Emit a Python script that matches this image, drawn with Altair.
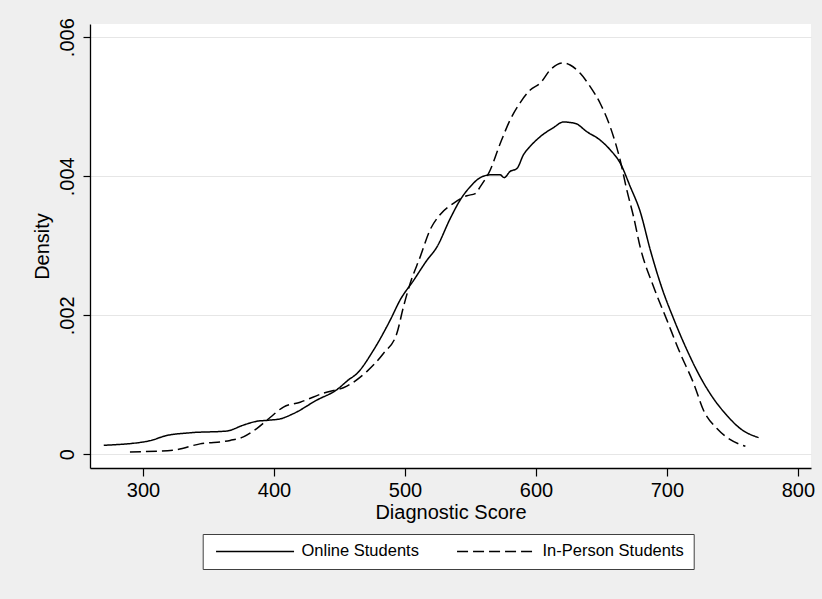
import altair as alt
import pandas as pd

series_names = ["Online Students", "In-Person Students"]

online_score = [270, 304, 318, 336, 364, 376.6, 386.8, 395.7, 404.7, 414.8, 432.7, 448,
                456.8, 463.2, 476, 488.7, 496.3, 506.5, 516.7, 524.3, 534.5, 542.2, 549.8,
                557.5, 565.1, 572.7, 575.7, 580.3, 585.4, 590.5, 595.6, 603.3, 613.4, 621,
                630, 638.9, 649, 656.7, 664.3, 672, 679.6, 687.3, 696.2, 705.1, 715.3,
                725.5, 735.6, 745.8, 756, 770]
online_density = [0.00013, 0.00019, 0.00027, 0.00031, 0.000335, 0.00042, 0.000475, 0.00049,
                  0.00051, 0.000585, 0.00078, 0.00093, 0.00107, 0.00116, 0.0015, 0.00193,
                  0.00222, 0.0025, 0.00279, 0.00298, 0.00339, 0.00366, 0.00385, 0.00398,
                  0.00402, 0.00402, 0.00398, 0.00407, 0.00411, 0.00431, 0.00443, 0.00457,
                  0.0047, 0.00478, 0.00476, 0.00464, 0.00452, 0.00438, 0.00419, 0.00385,
                  0.00349, 0.00294, 0.00239, 0.00195, 0.0015, 0.00111, 0.0008, 0.00056,
                  0.00037, 0.00024]

inperson_score = [290, 323, 343.5, 366.5, 376.6, 386.8, 397, 407.2, 420, 437.7, 455.6, 470.8,
                  483.5, 493.8, 498.8, 504, 511.6, 519.2, 526.9, 537, 547.3, 553.6, 557.5,
                  565.1, 572.7, 580.3, 588, 595.6, 603.3, 610.9, 621, 626.1, 633.8, 641.4,
                  649, 656.7, 664.3, 669.4, 674.5, 679.6, 689.8, 700, 710.2, 720.4, 728,
                  738.2, 748.4, 759.9]
inperson_density = [0.000033, 0.00006, 0.00015, 0.0002, 0.00025, 0.00037, 0.00053, 0.00068,
                    0.00075, 0.00088, 0.00098, 0.00119, 0.00145, 0.00174, 0.00212, 0.00246,
                    0.00284, 0.00323, 0.00345, 0.00361, 0.00372, 0.00375, 0.00385, 0.00409,
                    0.00447, 0.00481, 0.00506, 0.00524, 0.00534, 0.00553, 0.00563, 0.0056,
                    0.00548, 0.00529, 0.00505, 0.00471, 0.00423, 0.0038, 0.00342, 0.00298,
                    0.00241, 0.00193, 0.00145, 0.00102, 0.00063, 0.00037, 0.00021, 0.000115]

x_ticks = [300, 400, 500, 600, 700, 800]
y_ticks = [0, 0.002, 0.004, 0.006]

rows = []
for s, d in zip(online_score, online_density):
    rows.append({"score": s, "density": d, "group": series_names[0]})
for s, d in zip(inperson_score, inperson_density):
    rows.append({"score": s, "density": d, "group": series_names[1]})
df = pd.DataFrame(rows)

FONT = "Liberation Sans"

chart = alt.Chart(df).mark_line(
    color="black", strokeWidth=1.5, interpolate="monotone"
).encode(
    x=alt.X("score:Q",
            scale=alt.Scale(domain=[259.5, 810], nice=False, zero=False),
            axis=alt.Axis(values=x_ticks, title="Diagnostic Score", grid=False,
                          tickSize=8, labelPadding=4, titlePadding=2, labelFlush=False,
                          labelFontSize=20, titleFontSize=20, format="d")),
    y=alt.Y("density:Q",
            scale=alt.Scale(domain=[-0.000197, 0.00619], nice=False, zero=False),
            axis=alt.Axis(values=y_ticks, title="Density", grid=True,
                          labelExpr="datum.value == 0 ? '0' : replace(format(datum.value, '.3f'), '0.', '.')",
                          labelAngle=270, tickSize=7, labelPadding=6, titlePadding=5,
                          labelFontSize=20, titleFontSize=20)),
    strokeDash=alt.StrokeDash(
        "group:N",
        scale=alt.Scale(domain=series_names, range=[[1, 0], [11, 5]]),
        legend=alt.Legend(
            title=None, orient="none", legendX=112.7, legendY=510,
            direction="horizontal", strokeColor="#404040", fillColor="white",
            padding=9, labelFontSize=16.5, labelFont=FONT, labelColor="black",
            symbolType="M-10,0L10,0", symbolSize=60.84, symbolStrokeWidth=1.5,
            symbolStrokeColor="black", symbolOffset=35.1, labelOffset=38.2,
            columnPadding=33)),
).properties(
    width=721, height=444,
    padding={"left": 90, "top": 24, "right": 11, "bottom": 131},
    autosize=alt.AutoSizeParams(type="none"),
    background="#efefef",
).configure_view(
    fill="white", strokeWidth=0
).configure_axis(
    labelFont=FONT, titleFont=FONT, labelColor="black", titleColor="black",
    titleFontWeight="normal", domainColor="black", domainWidth=1.3,
    tickColor="black", tickWidth=1.2, gridColor="#e6e6e6", gridWidth=1.2
)

chart.save("out.html", embed_options={"renderer": "svg", "actions": False})
